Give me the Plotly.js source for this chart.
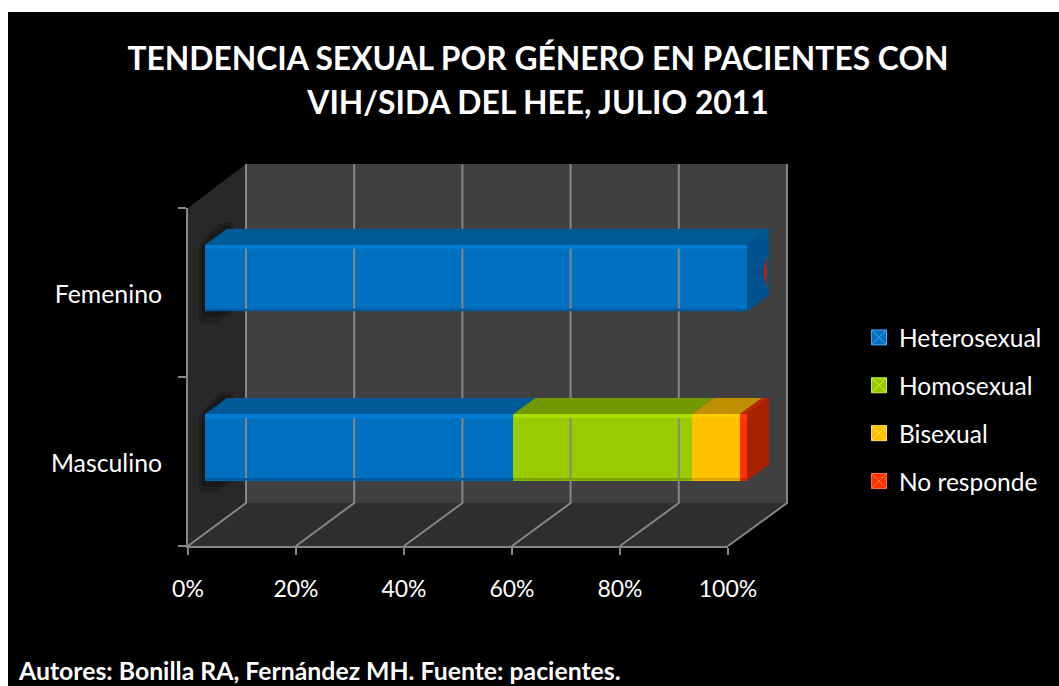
<!DOCTYPE html>
<html>
<head>
<meta charset="utf-8">
<script src="https://cdn.plot.ly/plotly-3.0.1.min.js"></script>
<style>html,body{margin:0;padding:0;background:#fff}#c{width:1059px;height:686px}</style>
</head>
<body>
<div id="c"></div>
<script>
const categories = ['Masculino', 'Femenino'];
const seriesNames = ['Heterosexual', 'Homosexual', 'Bisexual', 'No responde'];
const heterosexual = [56.9, 100];
const homosexual = [32.9, 0];
const bisexual = [8.9, 0];
const noResponde = [1.3, 0];
const xTicks = [0, 20, 40, 60, 80, 100];
const xTickLabels = ['0%', '20%', '40%', '60%', '80%', '100%'];
const titleLines = 'TENDENCIA SEXUAL POR GÉNERO EN PACIENTES CON<br>VIH/SIDA DEL HEE, JULIO 2011';
const footer = 'Autores: Bonilla RA, Fernández MH. Fuente: pacientes.';

const seriesValues = [heterosexual, homosexual, bisexual, noResponde];
const frontColors = ['#0070C0', '#99CC00', '#FFC000', '#FF3300'];
const topColors = ['#005A96', '#739900', '#C09000', '#BF2600'];
const sideColors = ['#00538F', '#6B8F00', '#B38600', '#A82200'];
const hiColors = ['#007CD2', '#A8DE00', '#FFCC00', '#FF4000'];
const loColors = ['#005A9E', '#7BA300', '#D9A300', '#CC2900'];
const markerLines = ['#4FA8E8', '#C8F040', '#FFE050', '#FF7040'];

const W = 1059, H = 686;
// pixel <-> overlay axis helpers: the overlay axes span the whole canvas
const PX_PER_PCT = 5.42, PX_PER_CAT = 169.3, X0 = 205, Y0 = 447.3;
const X = p => (p - X0) / PX_PER_PCT;
const Y = p => (Y0 - p) / PX_PER_CAT;
const BAR_W = 0.393;
const DX = 22 / PX_PER_PCT, DY = 16 / PX_PER_CAT;
const STRIP_HI = 4 / PX_PER_CAT, STRIP_LO = 2.5 / PX_PER_CAT;

const poly = (xs, ys, color) => ({
  type: 'scatter', mode: 'lines', xaxis: 'x2', yaxis: 'y2',
  x: xs.concat(xs[0]), y: ys.concat(ys[0]), fill: 'toself', fillcolor: color,
  line: {width: 0, color: color}, hoverinfo: 'skip', showlegend: false
});

const traces = [];

// legend carriers + main axis linkage
seriesNames.forEach((name, s) => {
  traces.push({
    type: 'scatter', mode: 'markers', name: name, legendgroup: name,
    x: categories.map(() => null), y: categories, xaxis: 'x', yaxis: 'y',
    marker: {symbol: 'square-x', size: 15, color: frontColors[s], line: {width: 1, color: markerLines[s]}},
    hoverinfo: 'skip'
  });
});

// floor diagonals + back-wall gridlines, derived from the tick values
const gridX = [], gridY = [];
xTicks.forEach(t => {
  const f = 188 + 5.4 * t, b = 246 + 5.41 * t;
  gridX.push(X(f), X(b), X(b), null);
  gridY.push(Y(546), Y(503), Y(164), null);
});
traces.push({type: 'scatter', mode: 'lines', xaxis: 'x2', yaxis: 'y2', x: gridX, y: gridY,
  line: {color: '#868686', width: 2}, hoverinfo: 'skip', showlegend: false});

// soft shadows on the side wall, kept beneath the traces
const shadowShapes = [];
categories.forEach((c, i) => {
  const yt = i + BAR_W / 2, yb = i - BAR_W / 2;
  [[6, 0.18], [3, 0.22]].forEach(([g, a]) => {
    const px = g / PX_PER_PCT, py = g / PX_PER_CAT;
    const xs = [-px, DX - px, DX + px, DX + px, 12 / PX_PER_PCT, -px];
    const ys = [yt, yt + DY + py, yt + DY + py, yb, yb - 2 * py, yb - 2 * py];
    shadowShapes.push({
      type: 'path', xref: 'x2', yref: 'y2', layer: 'below', line: {width: 0},
      fillcolor: 'rgba(0,0,0,' + a + ')',
      path: 'M' + xs.map((x, k) => x + ',' + ys[k]).join('L') + 'Z'
    });
  });
});

// depth faces for the stacked bars
categories.forEach((c, i) => {
  const yt = i + BAR_W / 2, yb = i - BAR_W / 2;
  let cum = 0, lastS = 0;
  seriesValues.forEach((vals, s) => {
    const v = vals[i];
    if (v > 0) {
      traces.push(poly([cum, cum + DX, cum + v + DX, cum + v], [yt, yt + DY, yt + DY, yt], topColors[s]));
      traces.push(poly([cum, cum + v, cum + v, cum], [yt, yt, yt - STRIP_HI, yt - STRIP_HI], hiColors[s]));
      traces.push(poly([cum, cum + v, cum + v, cum], [yb + STRIP_LO, yb + STRIP_LO, yb, yb], loColors[s]));
      lastS = s;
    }
    cum += v;
  });
  traces.push(poly([cum, cum + DX, cum + DX, cum], [yt, yt + DY, yb + DY, yb], sideColors[lastS]));
  // a zero-width final series shows as a sliver on the end cap
  if (noResponde[i] === 0) {
    const tip = cum + 16 / PX_PER_PCT, e = cum + 20 / PX_PER_PCT, mid = i + 6 / PX_PER_CAT;
    traces.push(poly([e, tip, e], [mid + 16 / PX_PER_CAT, mid, mid - 16 / PX_PER_CAT], '#B32400'));
  }
});

// the bars themselves
seriesNames.forEach((name, s) => {
  traces.push({
    type: 'bar', orientation: 'h', name: name, showlegend: false,
    x: seriesValues[s], y: categories.map((c, i) => i), width: BAR_W,
    xaxis: 'x2', yaxis: 'y2',
    marker: {color: frontColors[s], line: {width: 0}}
  });
});

const pathFrom = pts => 'M' + pts.map(p => (p[0] / W) + ',' + (1 - p[1] / H)).join('L') + 'Z';
const wall = (pts, color) => ({type: 'path', xref: 'paper', yref: 'paper', layer: 'below',
  path: pathFrom(pts), fillcolor: color, line: {width: 0}});

const fontFam = 'Lato, "Open Sans", sans-serif';
const axisLine = '#868686';

const layout = {
  width: W, height: H,
  margin: {l: 0, r: 0, t: 0, b: 0, pad: 0},
  paper_bgcolor: '#ffffff', plot_bgcolor: 'rgba(0,0,0,0)',
  barmode: 'stack', bargap: 0,
  showlegend: true,
  font: {family: fontFam, color: '#ffffff'},
  title: {
    text: '<span style="font-size:31.8px">' + titleLines.replace('<br>', '</span><br><span style="font-size:31.8px">') + '</span>',
    x: 538 / W, xanchor: 'center', xref: 'paper',
    y: 1 - 69.5 / H, yanchor: 'middle', yref: 'paper',
    font: {family: fontFam, size: 34.5, weight: 700, color: '#ffffff'}
  },
  xaxis: {
    domain: [188 / W, 728 / W], range: [0, 100], anchor: 'y', fixedrange: true,
    tickmode: 'array', tickvals: xTicks, ticktext: xTickLabels,
    ticks: 'outside', ticklen: 7, tickwidth: 2, tickcolor: axisLine,
    showline: true, linecolor: axisLine, linewidth: 2, showgrid: false, zeroline: false,
    ticklabelstandoff: 14,
    tickfont: {family: fontFam, size: 23, color: '#ffffff'}
  },
  yaxis: {
    domain: [1 - 546 / H, 1 - 208 / H], range: [-0.5, 1.5], anchor: 'x', fixedrange: true,
    type: 'category', categoryorder: 'array', categoryarray: categories,
    tickson: 'boundaries',
    ticks: 'outside', ticklen: 8, tickwidth: 2, tickcolor: axisLine,
    showline: true, linecolor: axisLine, linewidth: 2, showgrid: false, zeroline: false,
    ticklabelstandoff: 19, ticklabelshift: 2,
    tickfont: {family: fontFam, size: 24.8, color: '#ffffff'}
  },
  xaxis2: {domain: [0, 1], range: [X(0), X(W)], anchor: 'y2', visible: false, fixedrange: true},
  yaxis2: {domain: [0, 1], range: [Y(H), Y(0)], anchor: 'x2', visible: false, fixedrange: true},
  legend: {
    x: 859 / W, xanchor: 'left', y: 1 - 315 / H, yanchor: 'top',
    bgcolor: 'rgba(0,0,0,0)', borderwidth: 0,
    traceorder: 'grouped', tracegroupgap: 13, itemclick: false, itemdoubleclick: false,
    font: {family: fontFam, size: 24.5, color: '#ffffff'}
  },
  annotations: [{
    text: footer, xref: 'paper', yref: 'paper', showarrow: false,
    x: 16 / W, xanchor: 'left', y: 1 - 670.5 / H, yanchor: 'middle',
    font: {family: fontFam, size: 24.8, weight: 700, color: '#ffffff'}
  }],
  shapes: [
    {type: 'rect', xref: 'paper', yref: 'paper', layer: 'below', x0: 8 / W, x1: 1, y0: 0, y1: 1 - 12 / H,
      fillcolor: '#000000', line: {width: 0}},
    wall([[246, 164], [787, 164], [787, 503], [246, 503]], '#404040'),
    wall([[188, 208], [246, 164], [246, 503], [188, 546]], '#282828'),
    wall([[188, 546], [246, 503], [787, 503], [728, 546]], '#2E2E2E')
  ].concat(shadowShapes)
};

Plotly.newPlot('c', traces, layout, {displayModeBar: false, responsive: false});
</script>
</body>
</html>
